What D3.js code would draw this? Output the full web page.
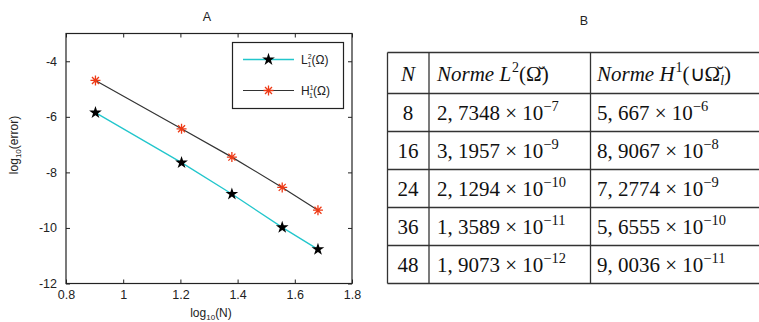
<!DOCTYPE html>
<html>
<head>
<meta charset="utf-8">
<script src="https://cdn.jsdelivr.net/npm/d3@7"></script>
<style>
  body { margin: 0; background: #fff; }
  svg { display: block; }
</style>
</head>
<body>
<svg id="chart" width="759" height="322"></svg>
<script>
// panel A data
const logN = [0.903, 1.204, 1.380, 1.556, 1.681];
const errL2 = [-5.85, -7.65, -8.78, -9.98, -10.77];
const errH1 = [-4.69, -6.43, -7.45, -8.54, -9.36];
const xTicks = [0.8, 1, 1.2, 1.4, 1.6, 1.8];
const yTicks = [-4, -6, -8, -10, -12];

// panel B table
const nValues = ['8', '16', '24', '36', '48'];
const l2Mant = ['2, 7348', '3, 1957', '2, 1294', '1, 3589', '1, 9073'];
const l2Exp = ['−7', '−9', '−10', '−11', '−12'];
const h1Mant = ['5, 667', '8, 9067', '7, 2774', '5, 6555', '9, 0036'];
const h1Exp = ['−6', '−8', '−9', '−10', '−11'];

const svg = d3.select('#chart');
const font = 'Liberation Sans, Arial, sans-serif';
const serif = 'Liberation Serif, Times New Roman, serif';

// ---------- panel A ----------
const margin = { left: 66, right: 352, top: 33.5, bottom: 283.5 };

const x = d3.scaleLinear().domain([0.8, 1.8]).range([margin.left, margin.right]);
const y = d3.scaleLinear().domain([-12, -3]).range([margin.bottom, margin.top]);

const g = svg.append('g');
const plain = d => String(d);

// inward ticks on all four sides
g.append('g')
  .attr('transform', 'translate(0,' + margin.bottom + ')')
  .call(d3.axisBottom(x).tickValues(xTicks).tickSizeInner(-4).tickSizeOuter(0).tickPadding(7).tickFormat(plain));
g.append('g')
  .attr('transform', 'translate(0,' + margin.top + ')')
  .call(d3.axisTop(x).tickValues(xTicks).tickSizeInner(-4).tickSizeOuter(0).tickFormat(''));
g.append('g')
  .attr('transform', 'translate(' + margin.left + ',0)')
  .call(d3.axisLeft(y).tickValues(yTicks).tickSizeInner(-4).tickSizeOuter(0).tickPadding(9).tickFormat(plain));
g.append('g')
  .attr('transform', 'translate(' + margin.right + ',0)')
  .call(d3.axisRight(y).tickValues(yTicks).tickSizeInner(-4).tickSizeOuter(0).tickFormat(''));

g.selectAll('.domain').remove();
g.selectAll('.tick line').attr('stroke', '#222');
g.selectAll('.tick text')
  .style('font-family', font)
  .style('font-size', '12.5px')
  .attr('fill', '#222');

g.append('rect')
  .attr('x', margin.left).attr('y', margin.top)
  .attr('width', margin.right - margin.left)
  .attr('height', margin.bottom - margin.top)
  .attr('fill', 'none').attr('stroke', '#222').attr('stroke-width', 1.2);

const line = d3.line().x(d => x(d[0])).y(d => y(d[1]));
const l2Pts = logN.map((v, i) => [v, errL2[i]]);
const h1Pts = logN.map((v, i) => [v, errH1[i]]);

g.append('path').datum(l2Pts).attr('d', line)
  .attr('fill', 'none').attr('stroke', '#22c6cc').attr('stroke-width', 1.3);
g.append('path').datum(h1Pts).attr('d', line)
  .attr('fill', 'none').attr('stroke', '#333').attr('stroke-width', 1.2);

const star = d3.symbol().type(d3.symbolStar).size(50);
function asterisk(sel, cx, cy) {
  const r = 5, k = r * 0.7;
  sel.append('path')
    .attr('d', 'M' + (cx - r) + ',' + cy + 'h' + 2 * r +
      'M' + cx + ',' + (cy - r) + 'v' + 2 * r +
      'M' + (cx - k) + ',' + (cy - k) + 'l' + 2 * k + ',' + 2 * k +
      'M' + (cx - k) + ',' + (cy + k) + 'l' + 2 * k + ',' + (-2 * k))
    .attr('stroke', '#ee3a16').attr('stroke-width', 1.3).attr('fill', 'none');
}

g.selectAll('.l2pt').data(l2Pts).enter().append('path')
  .attr('class', 'l2pt')
  .attr('transform', d => 'translate(' + x(d[0]) + ',' + y(d[1]) + ')')
  .attr('d', star).attr('fill', '#000');
h1Pts.forEach(d => asterisk(g, x(d[0]), y(d[1])));

// legend
const lg = g.append('g');
lg.append('rect').attr('x', 232.5).attr('y', 42.5).attr('width', 111).attr('height', 66)
  .attr('fill', '#fff').attr('stroke', '#222').attr('stroke-width', 1.2);
lg.append('line').attr('x1', 243).attr('x2', 294).attr('y1', 59.5).attr('y2', 59.5)
  .attr('stroke', '#22c6cc').attr('stroke-width', 1.5);
lg.append('path').attr('transform', 'translate(268.5,59.5)').attr('d', star).attr('fill', '#000');
lg.append('line').attr('x1', 243).attr('x2', 294).attr('y1', 90.5).attr('y2', 90.5)
  .attr('stroke', '#333').attr('stroke-width', 1.2);
asterisk(lg, 268.5, 90.5);

function legendLabel(ypos, letter, sup) {
  const t = lg.append('text').attr('x', 301).attr('y', ypos + 4)
    .style('font-family', font).style('font-size', '12px').attr('fill', '#222');
  t.append('tspan').text(letter);
  t.append('tspan').attr('font-size', '7px').attr('dy', -5).text(sup);
  t.append('tspan').attr('font-size', '7px').attr('dx', -4).attr('dy', 8).text('1');
  t.append('tspan').attr('dy', -3).text('(Ω)');
}
legendLabel(59.5, 'L', '2');
legendLabel(90.5, 'H', '1');

// titles and axis labels
g.append('text').attr('x', 207).attr('y', 21).attr('text-anchor', 'middle')
  .style('font-family', font).style('font-size', '12.5px').attr('fill', '#222').text('A');

const yl = g.append('text').attr('transform', 'translate(18,145) rotate(-90)')
  .attr('text-anchor', 'middle')
  .style('font-family', font).style('font-size', '12px').attr('fill', '#222');
yl.append('tspan').text('log');
yl.append('tspan').attr('font-size', '8px').attr('dy', 3).text('10');
yl.append('tspan').attr('dy', -3).text('(error)');

const xl = g.append('text').attr('x', 211).attr('y', 317).attr('text-anchor', 'middle')
  .style('font-family', font).style('font-size', '12px').attr('fill', '#222');
xl.append('tspan').text('log');
xl.append('tspan').attr('font-size', '8px').attr('dy', 3).text('10');
xl.append('tspan').attr('dy', -3).text('(N)');

// ---------- panel B ----------
const tb = svg.append('g');
tb.append('text').attr('x', 584).attr('y', 25).attr('text-anchor', 'middle')
  .style('font-family', font).style('font-size', '12.5px').attr('fill', '#222').text('B');

const colX = [387.5, 429, 590.5, 762];
const rowY = [52.5, 93.5, 131.5, 169.5, 207.5, 245.5, 283.5];

rowY.forEach(v => tb.append('line').attr('x1', colX[0]).attr('x2', colX[3])
  .attr('y1', v).attr('y2', v).attr('stroke', '#333').attr('stroke-width', 1.3));
colX.forEach(v => tb.append('line').attr('x1', v).attr('x2', v)
  .attr('y1', rowY[0]).attr('y2', rowY[6]).attr('stroke', '#333').attr('stroke-width', 1.3));

const fs = '21px';
function txt(xp, yp, anchor) {
  return tb.append('text').attr('x', xp).attr('y', yp).attr('text-anchor', anchor || 'start')
    .style('font-family', serif).style('font-size', fs).attr('fill', '#111');
}

// header
txt(408, 81, 'middle').style('font-style', 'italic').text('N');
const h2 = txt(437, 81);
h2.append('tspan').style('font-style', 'italic').text('Norme L');
h2.append('tspan').attr('font-size', '14px').attr('dx', 1).attr('dy', -9).text('2');
h2.append('tspan').attr('dy', 9).text('(Ω̆)');
const h3 = txt(597, 81);
h3.append('tspan').style('font-style', 'italic').text('Norme H');
h3.append('tspan').attr('font-size', '14px').attr('dx', 1).attr('dy', -9).text('1');
h3.append('tspan').attr('dy', 9).text('(∪Ω̆');
h3.append('tspan').attr('font-size', '14px').attr('dy', 4).style('font-style', 'italic').text('l');
h3.append('tspan').attr('dy', -4).text(')');

function sci(t, mant, ex) {
  t.append('tspan').text(mant + ' × 10');
  t.append('tspan').attr('font-size', '14.5px').attr('dy', -9).text(ex);
}

nValues.forEach((n, i) => {
  const base = (rowY[i + 1] + rowY[i + 2]) / 2 + 7;
  txt(408, base, 'middle').text(n);
  sci(txt(437, base), l2Mant[i], l2Exp[i]);
  sci(txt(597, base), h1Mant[i], h1Exp[i]);
});
</script>
</body>
</html>
